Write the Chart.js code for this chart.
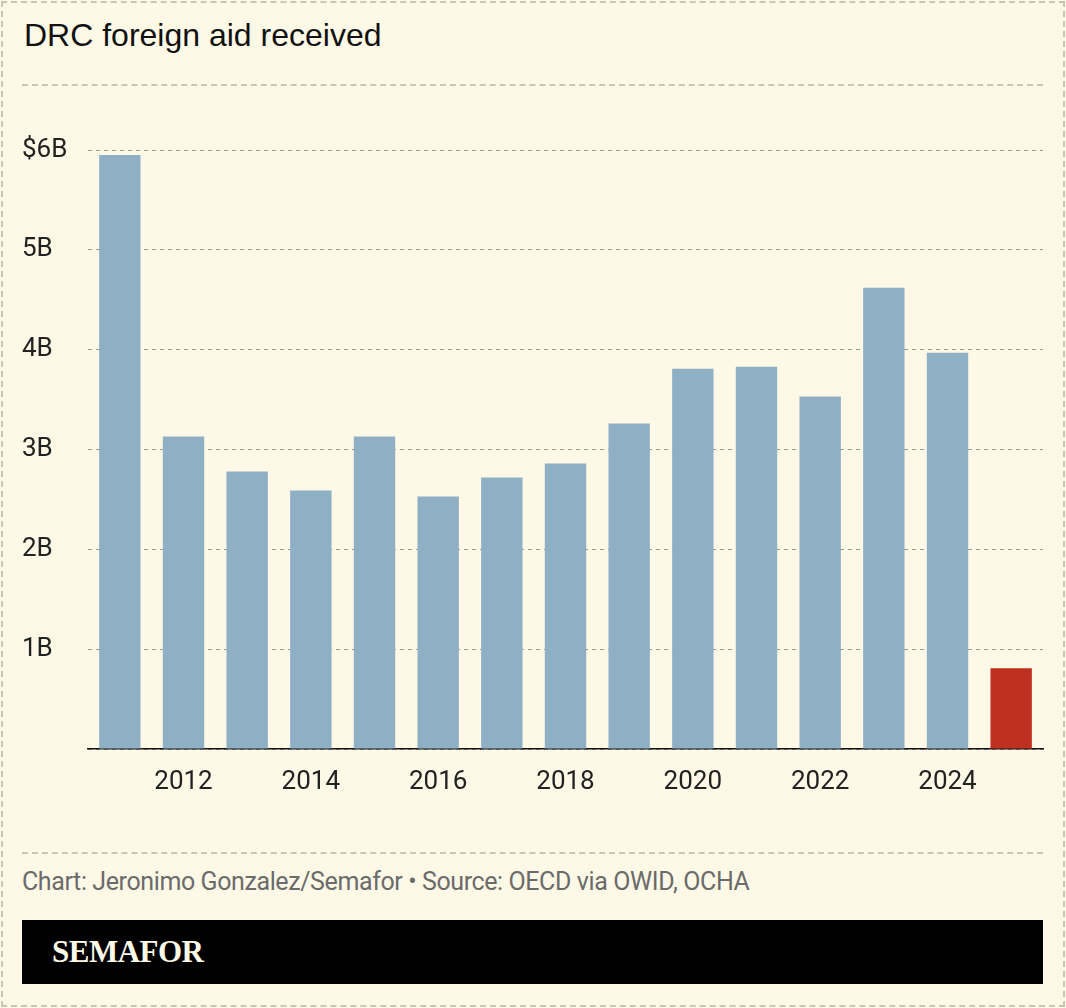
<!DOCTYPE html>
<html><head><meta charset="utf-8">
<script src="https://cdn.jsdelivr.net/npm/chart.js@4"></script>
<style>
html,body{margin:0;padding:0;background:#fdf9e6;}
#frame{position:absolute;left:1px;top:1px;width:1060px;height:1002px;border:2px dashed #c9c6b8;}
#title{position:absolute;left:24px;top:17px;font:32px "Liberation Sans",Arial,sans-serif;color:#111;}
.hr{position:absolute;left:22px;width:1021px;border-top:2px dashed #c9c6b8;}
#wrap{position:absolute;left:22px;top:130px;width:1023px;height:669px;}
#src{position:absolute;left:22px;top:867px;font:25px Roboto,sans-serif;color:#6b6b6b;letter-spacing:-0.4px;}
#bar{position:absolute;left:22px;top:920px;width:1021px;height:64px;background:#000;}
#bar span{position:absolute;left:30px;top:14px;font:bold 31px "Liberation Serif",serif;color:#fdf9e6;letter-spacing:-0.5px;}
</style></head><body>
<div id="frame"></div>
<div id="title">DRC foreign aid received</div>
<div class="hr" style="top:84px"></div>
<div id="wrap"><canvas id="c"></canvas></div>
<div class="hr" style="top:852px"></div>
<div id="src">Chart: Jeronimo Gonzalez/Semafor • Source: OECD via OWID, OCHA</div>
<div id="bar"><span>SEMAFOR</span></div>
<script>
const years=["2011","2012","2013","2014","2015","2016","2017","2018","2019","2020","2021","2022","2023","2024","2025"];
const aid=[5.95,3.13,2.78,2.59,3.13,2.53,2.72,2.86,3.26,3.81,3.83,3.53,4.62,3.97,0.81];
const colors=years.map(y=>y==="2025"?"#bf3020":"#8fafc4");
new Chart(document.getElementById('c'),{
type:'bar',
data:{labels:years,datasets:[{data:aid,backgroundColor:colors,barPercentage:0.65,categoryPercentage:1}]},
options:{responsive:true,maintainAspectRatio:false,animation:false,
layout:{padding:{top:20,right:2,left:0,bottom:0}},
plugins:{legend:{display:false},tooltip:{enabled:false}},
scales:{
x:{grid:{display:false},border:{color:'#111',width:1.5},
 ticks:{color:'#222',font:{family:'Roboto',size:26},padding:10,maxRotation:0,autoSkip:false,
 callback:(v,i)=>(parseInt(years[i])%2===0?years[i]:'')},
 afterFit:s=>{s.height=50;}},
y:{min:0,max:6,
 grid:{color:'#999',lineWidth:1,drawTicks:false},border:{display:false,dash:[4,4]},
 ticks:{stepSize:1,color:'#222',font:{family:'Roboto',size:26},crossAlign:'far',padding:0,
 callback:v=>v===0?'':(v===6?'$6B':v+'B')},
 afterFit:s=>{s.width=66;}}
}}
});
</script>
</body></html>
